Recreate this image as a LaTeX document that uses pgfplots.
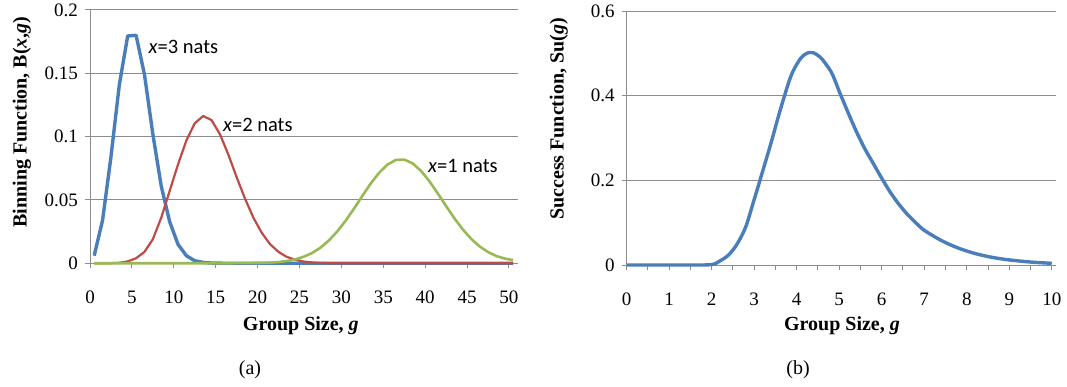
\documentclass[border=0pt]{standalone}
\usepackage{fontspec}
\setmainfont{Liberation Serif}
\newfontfamily\calibri{Carlito}
\usepackage{pgfplots}
\pgfplotsset{compat=1.18}
\usepackage{pgfplotstable}
\definecolor{exblue}{HTML}{4A7EBB}
\definecolor{exred}{HTML}{BE4B48}
\definecolor{exgreen}{HTML}{98B954}
\definecolor{gridgray}{HTML}{8C8C8C}

\pgfplotstableread{
g B3 B2 B1
0.5 0.006 0 0
1.5 0.034 0 0
2.5 0.084 0.0001 0
3.5 0.141 0.0004 0
4.5 0.1795 0.0015 0
5.5 0.180 0.004 0
6.5 0.149 0.009 0
7.5 0.102 0.019 0
8.5 0.061 0.036 0
9.5 0.033 0.057 0
10.5 0.015 0.078 0
11.5 0.006 0.097 0
12.5 0.002 0.1105 0
13.5 0.0007 0.1163 0
14.5 0.0002 0.1131 0
15.5 0.0001 0.102 0
16.5 0 0.086 0
17.5 0 0.068 0.0001
18.5 0 0.051 0.0001
19.5 0 0.036 0.0002
20.5 0 0.024 0.0003
21.5 0 0.015 0.0005
22.5 0 0.009 0.0010
23.5 0 0.005 0.0018
24.5 0 0.0028 0.0031
25.5 0 0.0014 0.0052
26.5 0 0.0007 0.0081
27.5 0 0.0003 0.0123
28.5 0 0.0001 0.0180
29.5 0 0 0.0251
30.5 0 0 0.0336
31.5 0 0 0.0431
32.5 0 0 0.0532
33.5 0 0 0.0630
34.5 0 0 0.0715
35.5 0 0 0.0780
36.5 0 0 0.0816
37.5 0 0 0.0819
38.5 0 0 0.0789
39.5 0 0 0.0730
40.5 0 0 0.0648
41.5 0 0 0.0552
42.5 0 0 0.0451
43.5 0 0 0.0354
44.5 0 0 0.0266
45.5 0 0 0.0192
46.5 0 0 0.0133
47.5 0 0 0.0089
48.5 0 0 0.0057
49.5 0 0 0.0037
50.5 0 0 0.0025
}\binning

\pgfplotstableread{
g su
0 0
0.5 0
1 0
1.5 0
2 0.001
2.2 0.01
2.4 0.024
2.6 0.05
2.8 0.09
3.0 0.155
3.2 0.222
3.4 0.29
3.6 0.362
3.8 0.428
3.9 0.455
4.0 0.474
4.1 0.489
4.2 0.498
4.3 0.502
4.4 0.501
4.5 0.495
4.6 0.486
4.8 0.458
4.9 0.436
5.0 0.41
5.1 0.386
5.2 0.362
5.4 0.316
5.6 0.275
5.8 0.24
6.0 0.205
6.2 0.172
6.4 0.144
6.6 0.12
6.8 0.1
7.0 0.082
7.4 0.058
7.8 0.04
8.2 0.027
8.6 0.018
9.0 0.012
9.5 0.007
10 0.004
}\success

\pgfplotsset{
 excel/.style={
  scale only axis, clip=false,
  axis x line*=bottom, axis y line*=left,
  axis line style={gridgray, line width=0.5bp, -},
  tick style={gridgray, line width=0.5bp},
  tick align=outside,
  major tick length=2.5bp, minor tick length=2.5bp,
  ymajorgrids, grid style={gridgray, line width=0.5bp},
  tick label style={font=\fontsize{9.5bp}{11bp}\selectfont},
  /pgf/number format/assume math mode=true,
  scaled y ticks=false,
  yticklabel style={/pgf/number format/fixed, /pgf/number format/precision=2},
  label style={font=\fontsize{10bp}{12bp}\selectfont\bfseries},
  xticklabel style={yshift=-8bp},
  every axis plot/.append style={line join=round},
 }
}

\begin{document}
\begin{tikzpicture}
\path[use as bounding box] (0,0) rectangle (533.5bp,193.5bp);
\begin{axis}[excel, at={(45bp,61.85bp)}, anchor=south west,
  width=213.85bp, height=126.65bp,
  xmin=0, xmax=51.04, ymin=0, ymax=0.2,
  xtick={0,5,10,15,20,25,30,35,40,45,50},
  ytick={0,0.05,0.1,0.15,0.2},
  xlabel={Group Size, \textit{g}},
  ylabel={Binning Function, B(\textit{x},\textit{g})},
  xlabel style={at={(rel axis cs:0.493,-0.2475)}, anchor=center},
  ylabel style={at={(rel axis cs:-0.159,0.558)}, anchor=center}]
\addplot[exblue, line width=1.7bp] table[x=g,y=B3]{\binning};
\addplot[exred, line width=1.1bp] table[x=g,y=B2]{\binning};
\addplot[exgreen, line width=1.3bp] table[x=g,y=B1]{\binning};
\node[anchor=west, inner sep=0, font=\calibri\fontsize{10.25bp}{12bp}\selectfont] at (axis cs:6.96,0.171) {\textit{x}=3 nats};
\node[anchor=west, inner sep=0, font=\calibri\fontsize{10.25bp}{12bp}\selectfont] at (axis cs:15.83,0.1092) {\textit{x}=2 nats};
\node[anchor=west, inner sep=0, font=\calibri\fontsize{10.25bp}{12bp}\selectfont] at (axis cs:40.3,0.0768) {\textit{x}=1 nats};
\end{axis}
\begin{axis}[excel, at={(313.35bp,61bp)}, anchor=south west,
  width=214.65bp, height=127bp,
  xmin=0, xmax=10.1, ymin=0, ymax=0.6,
  xtick={0,1,2,3,4,5,6,7,8,9,10},
  minor xtick={0.5,1.5,2.5,3.5,4.5,5.5,6.5,7.5,8.5,9.5},
  ytick={0,0.2,0.4,0.6},
  xlabel={Group Size, \textit{g}},
  ylabel={Success Function, Su(\textit{g})},
  xlabel style={at={(rel axis cs:0.5015,-0.24)}, anchor=center},
  ylabel style={at={(rel axis cs:-0.158,0.575)}, anchor=center}]
\addplot[exblue, line width=1.7bp, smooth] table[x=g,y=su]{\success};
\end{axis}
\node[font=\fontsize{10bp}{12bp}\selectfont] at (125bp,8.5bp) {(a)};
\node[font=\fontsize{10bp}{12bp}\selectfont] at (399bp,8.5bp) {(b)};
\end{tikzpicture}
\end{document}
